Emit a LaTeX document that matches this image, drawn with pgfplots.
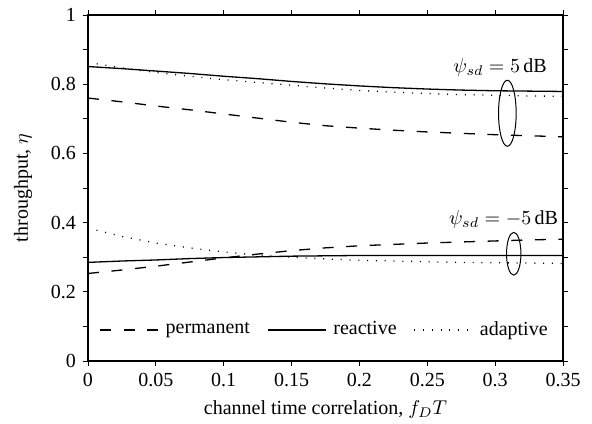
\documentclass[border=0pt]{standalone}
\usepackage{fontspec}
\setmainfont{Liberation Serif}
\usepackage{pgfplots}
\pgfplotsset{compat=1.18}

\begin{document}
\begin{tikzpicture}
\begin{axis}[
    scale only axis,
    width=237.5pt, height=173pt,
    xmin=0, xmax=0.35, ymin=0, ymax=1,
    xtick={0,0.05,...,0.35},
    xticklabels={0,0.05,0.1,0.15,0.2,0.25,0.3,0.35},
    ytick={0,0.2,...,1},
    yticklabels={0,0.2,0.4,0.6,0.8,1},
    minor ytick={0.1,0.3,0.5,0.7,0.9},
    tick align=outside,
    major tick length=2.5pt, minor tick length=2.5pt,
    axis line style={line width=0.7pt},
    every tick/.style={black, line width=0.4pt},
    /pgf/number format/assume math mode=true,
    xlabel={channel time correlation, $f_DT$},
    ylabel={throughput, $\eta$},
    ylabel shift=2.5pt,
    legend style={at={(0.5,0.09)}, anchor=center, draw=none, fill=none,
        legend columns=-1,
        /tikz/every odd column/.append style={column sep=1.5pt},
        /tikz/every even column/.append style={column sep=6.5pt}},
    legend image code/.code={\draw[#1] (0pt,0pt) -- (29pt,0pt);},
    dashed/.style={dash pattern=on 5.5pt off 6.3pt},
    dotted/.style={dash pattern=on 0.5pt off 3.9pt},
]
\addplot[black, line width=0.65pt, dashed] coordinates {
    (0,0.760) (0.025,0.749) (0.05,0.737) (0.075,0.726) (0.1,0.714)
    (0.125,0.702) (0.15,0.690) (0.175,0.680) (0.2,0.673) (0.225,0.667)
    (0.25,0.662) (0.275,0.658) (0.3,0.654) (0.325,0.651) (0.35,0.648)
};
\addlegendentry{permanent}
\addplot[black, line width=0.65pt] coordinates {
    (0,0.851) (0.025,0.845) (0.05,0.838) (0.075,0.831) (0.1,0.823)
    (0.125,0.816) (0.15,0.808) (0.175,0.801) (0.2,0.795) (0.225,0.790)
    (0.25,0.786) (0.275,0.783) (0.3,0.781) (0.325,0.780) (0.35,0.779)
};
\addlegendentry{reactive}
\addplot[black, line width=0.65pt, dotted] coordinates {
    (0,0.863) (0.025,0.847) (0.05,0.834) (0.075,0.823) (0.1,0.813)
    (0.125,0.805) (0.15,0.797) (0.175,0.789) (0.2,0.782) (0.225,0.777)
    (0.25,0.773) (0.275,0.770) (0.3,0.768) (0.325,0.766) (0.35,0.765)
};
\addlegendentry{adaptive}

\addplot[black, line width=0.65pt, dashed, forget plot] coordinates {
    (0,0.253) (0.025,0.263) (0.05,0.274) (0.075,0.286) (0.1,0.298)
    (0.125,0.309) (0.15,0.319) (0.175,0.327) (0.2,0.333) (0.225,0.337)
    (0.25,0.341) (0.275,0.344) (0.3,0.347) (0.325,0.350) (0.35,0.352)
};
\addplot[black, line width=0.65pt, forget plot] coordinates {
    (0,0.285) (0.025,0.289) (0.05,0.292) (0.075,0.296) (0.1,0.299)
    (0.125,0.301) (0.15,0.303) (0.175,0.304) (0.2,0.305) (0.25,0.305)
    (0.3,0.305) (0.35,0.305)
};
\addplot[black, line width=0.65pt, dotted, forget plot] coordinates {
    (0,0.384) (0.025,0.360) (0.05,0.341) (0.075,0.327) (0.1,0.315)
    (0.125,0.306) (0.15,0.300) (0.175,0.295) (0.2,0.291) (0.225,0.289)
    (0.25,0.287) (0.275,0.285) (0.3,0.284) (0.325,0.283) (0.35,0.282)
};

% group markers
\draw[line width=0.5pt] (axis cs:0.309,0.716) ellipse [x radius=4.4pt, y radius=16.5pt];
\draw[line width=0.5pt] (axis cs:0.3137,0.310) ellipse [x radius=3.6pt, y radius=10.7pt];
\node[anchor=base east, inner sep=0pt] at (axis cs:0.3383,0.833) {$\psi_{sd} = 5\,\mathrm{dB}$};
\node[anchor=base east, inner sep=0pt] at (axis cs:0.3466,0.394) {$\psi_{sd} = -5\,\mathrm{dB}$};
\end{axis}
\pgfresetboundingbox
\path (-44pt,-31pt) rectangle (252pt,180.5pt);
\end{tikzpicture}
\end{document}
